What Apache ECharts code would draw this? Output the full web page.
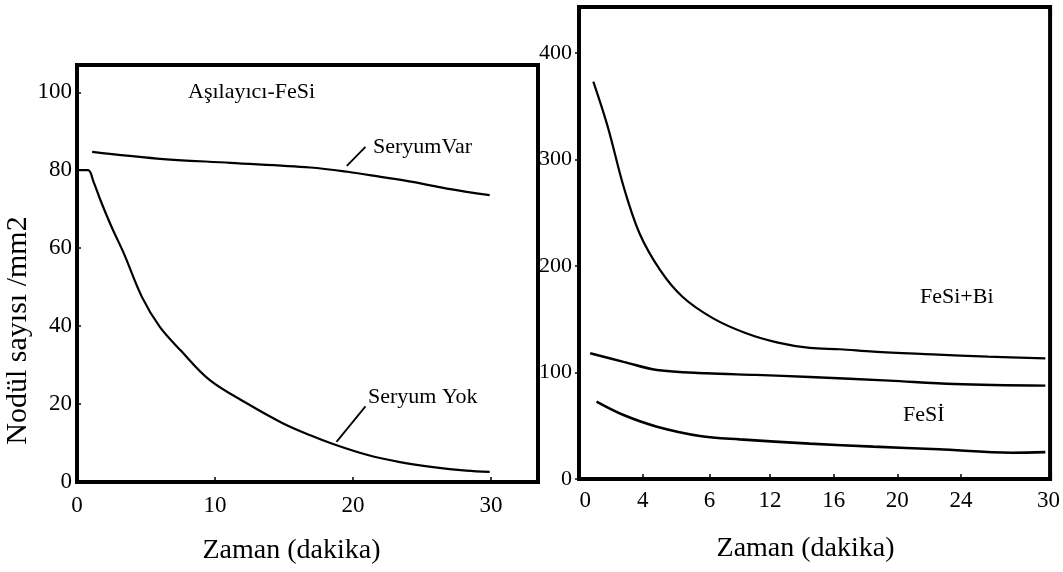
<!DOCTYPE html>
<html>
<head>
<meta charset="utf-8">
<script src="https://cdn.jsdelivr.net/npm/echarts@6/dist/echarts.min.js"></script>
<style>
html,body{margin:0;padding:0;background:#fff}
#main{width:1063px;height:572px}
</style>
</head>
<body>
<div id="main"></div>
<script>
// sol panel: Aşılayıcı-FeSi
var seryumVar = [[1.1,84.7],[5.8,83.0],[11.1,81.9],[16.9,80.7],[19.6,79.6],[22,78.3],[24.3,77.0],[26.8,75.3],[29.9,73.6]];
var seryumYok = [[0,80],[0.8,80],[1.2,77],[1.7,72.3],[2.5,65.5],[3.4,58.6],[4.7,47.5],[6.0,39.8],[7.5,33.8],[9.6,26.2],[12.3,20.2],[14.9,15.1],[16.9,12.0],[18.6,9.7],[21.0,7.0],[23.4,5.1],[25.8,3.8],[28.2,2.9],[29.9,2.6]];
var leftXTicks = [0,10,20,30];
var leftYTicks = [0,20,40,60,80,100];

// sag panel
var fesiBi = [[0.9,373],[1.8,331],[2.8,274.5],[3.8,230.7],[5.1,196],[6.5,171],[8.4,151],[10.5,136.8],[12.5,128],[14.5,123],[16.4,121.8],[18.5,119.5],[22.2,117],[25.7,114.8],[29.3,113.3]];
var ortaEgri = [[0.7,118],[2.8,110],[4.9,102.3],[8.0,99.2],[11.1,97.7],[14.5,95.8],[19.5,92.3],[23.6,89.2],[29.3,87.6]];
var fesi = [[1.1,72.6],[2.8,60],[4.9,49.1],[7.6,40.4],[10.1,37.2],[14.5,33.2],[18.5,30.4],[22.6,27.9],[27.2,24.7],[29.3,25.2]];
var rightXPos = [0.4,4,8.2,12,16,20,24,29.5];
var rightXLabels = ['0','4','6','12','16','20','24','30'];
var rightXTickPos = [4,8.2,12,16,20,24];
var rightYTicks = [0,100,200,300,400];

var serif = "'Liberation Serif','DejaVu Serif',serif";
var chart = echarts.init(document.getElementById('main'));

function curve(data, gi, w) {
    return {
        type: 'line',
        xAxisIndex: gi,
        yAxisIndex: gi,
        data: data,
        smooth: 0.35,
        symbol: 'none',
        lineStyle: {color: '#000', width: w},
        silent: true
    };
}

function leader(s, from, to) {
    s.markLine = {
        silent: true, symbol: 'none', label: {show: false},
        lineStyle: {color: '#000', width: 1.8, type: 'solid'},
        data: [[{coord: from}, {coord: to}]]
    };
    return s;
}

chart.setOption({
    animation: false,
    backgroundColor: '#fff',
    textStyle: {fontFamily: serif, color: '#000'},
    grid: [
        {left: 77, top: 65, width: 461, height: 417, show: true, borderColor: '#000', borderWidth: 4},
        {left: 579, top: 7, width: 476, height: 472, show: true, borderColor: '#000', borderWidth: 4}
    ],
    xAxis: [
        {
            type: 'value', gridIndex: 0, min: 0, max: 33.4,
            name: 'Zaman (dakika)', nameLocation: 'middle', nameGap: 55,
            nameTextStyle: {fontSize: 28, fontFamily: serif, color: '#000', padding: [0, 32, 0, 0]},
            axisLine: {show: false},
            axisTick: {inside: true, length: 5, customValues: leftXTicks, lineStyle: {color: '#000', width: 1.5}},
            axisLabel: {customValues: leftXTicks, margin: 12, fontSize: 23, fontFamily: serif, color: '#000'},
            splitLine: {show: false}
        },
        {
            type: 'value', gridIndex: 1, min: 0, max: 29.6,
            name: 'Zaman (dakika)', nameLocation: 'middle', nameGap: 56,
            nameTextStyle: {fontSize: 28, fontFamily: serif, color: '#000', padding: [0, 18, 0, 0]},
            axisLine: {show: false},
            axisTick: {inside: true, length: 5, customValues: rightXTickPos, lineStyle: {color: '#000', width: 1.5}},
            axisLabel: {
                customValues: rightXPos, margin: 10, fontSize: 23, fontFamily: serif, color: '#000',
                formatter: function (v) {
                    var i = rightXPos.indexOf(v);
                    return i < 0 ? '' : rightXLabels[i];
                }
            },
            splitLine: {show: false}
        }
    ],
    yAxis: [
        {
            type: 'value', gridIndex: 0, min: 0, max: 107,
            name: 'Nodül sayısı /mm2', nameLocation: 'middle', nameRotate: 90, nameGap: 42,
            nameTextStyle: {fontSize: 30, fontFamily: serif, color: '#000', padding: [0, 114, 0, 0]},
            axisLine: {show: false},
            axisTick: {inside: true, length: 4, customValues: leftYTicks, lineStyle: {color: '#000', width: 1.5}},
            axisLabel: {customValues: leftYTicks, margin: 5, fontSize: 23, fontFamily: serif, color: '#000'},
            splitLine: {show: false}
        },
        {
            type: 'value', gridIndex: 1, min: 0, max: 443,
            axisLine: {show: false},
            axisTick: {inside: false, length: 4, customValues: rightYTicks, lineStyle: {color: '#000', width: 1.5}},
            axisLabel: {customValues: rightYTicks, margin: 7, fontSize: 22, fontFamily: serif, color: '#000'},
            splitLine: {show: false}
        }
    ],
    graphic: [
        {type: 'text', x: 188, y: 92, style: {text: 'Aşılayıcı-FeSi', font: '22px ' + serif, fill: '#000', verticalAlign: 'middle'}},
        {type: 'text', x: 373, y: 147, style: {text: 'SeryumVar', font: '22px ' + serif, fill: '#000', verticalAlign: 'middle'}},
        {type: 'text', x: 368, y: 397, style: {text: 'Seryum Yok', font: '22px ' + serif, fill: '#000', verticalAlign: 'middle'}},
        {type: 'text', x: 920, y: 297, style: {text: 'FeSi+Bi', font: '22px ' + serif, fill: '#000', verticalAlign: 'middle'}},
        {type: 'text', x: 903, y: 415, style: {text: 'FeSİ', font: '22px ' + serif, fill: '#000', verticalAlign: 'middle'}}
    ],
    series: [
        leader(curve(seryumVar, 0, 2.2), [19.55, 81.1], [20.9, 86.0]),
        leader(curve(seryumYok, 0, 2.2), [18.8, 10.3], [20.9, 19.4]),
        curve(fesiBi, 1, 2.2),
        curve(ortaEgri, 1, 2.4),
        curve(fesi, 1, 2.6)
    ]
});
</script>
</body>
</html>
